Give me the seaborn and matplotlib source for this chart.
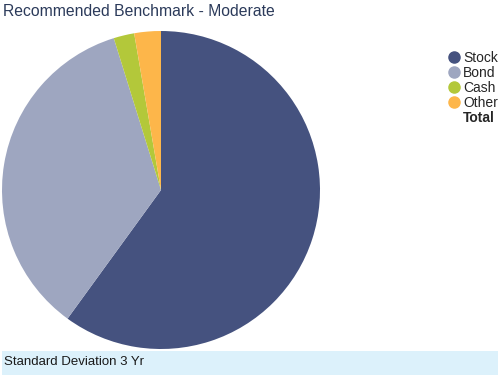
import matplotlib
matplotlib.use("Agg")
import matplotlib.pyplot as plt
from matplotlib.lines import Line2D
from matplotlib.patches import Rectangle
import seaborn as sns

# data
labels = ["Stock", "Bond", "Cash", "Other"]
weights = [60, 35.2, 2.1, 2.7]
colors = ["#45527f", "#9ea6c0", "#b3c83a", "#fdb64a"]
title = "Recommended Benchmark - Moderate"
footer = "Standard Deviation 3 Yr"

sns.set_style("white")
plt.rcParams["font.family"] = ["Liberation Sans", "DejaVu Sans"]

fig = plt.figure(figsize=(5, 3.8), dpi=100)

# pie axes: centre ~ (161,189) px, radius ~159 px
ax = fig.add_axes([2 / 500, 31 / 380, 318 / 500, 318 / 380])
ax.pie(weights, colors=colors, startangle=90, counterclock=False,
       wedgeprops=dict(linewidth=0))
ax.set_xlim(-1, 1)
ax.set_ylim(-1, 1)
ax.set_aspect("equal")
ax.axis("off")

fig.text(3 / 500, 1 - 11 / 380, title, fontsize=11.3, color="#2b3a5a",
         va="center", ha="left")

# legend on the right
handles = [Line2D([], [], marker="o", linestyle="none", markersize=8,
                  markerfacecolor=c, markeredgecolor=c) for c in colors]
handles.append(Line2D([], [], linestyle="none"))
leg = fig.legend(handles, labels + ["Total"], loc="upper left",
                 bbox_to_anchor=(440 / 500, 1 - 45 / 380), frameon=False,
                 fontsize=10, handletextpad=0.05, labelspacing=0.08,
                 handlelength=1.2, borderaxespad=0)
leg.get_texts()[-1].set_fontweight("bold")

# footer band
fig.patches.append(Rectangle((2 / 500, 5 / 380), 496 / 500, 24 / 380,
                             transform=fig.transFigure, facecolor="#dcf1fb",
                             edgecolor="none", zorder=0))
fig.text(4 / 500, 1 - 362 / 380, footer, fontsize=9.5, color="#1a1a1a",
         va="center", ha="left")

fig.savefig("out.png", dpi=100, facecolor="white")
